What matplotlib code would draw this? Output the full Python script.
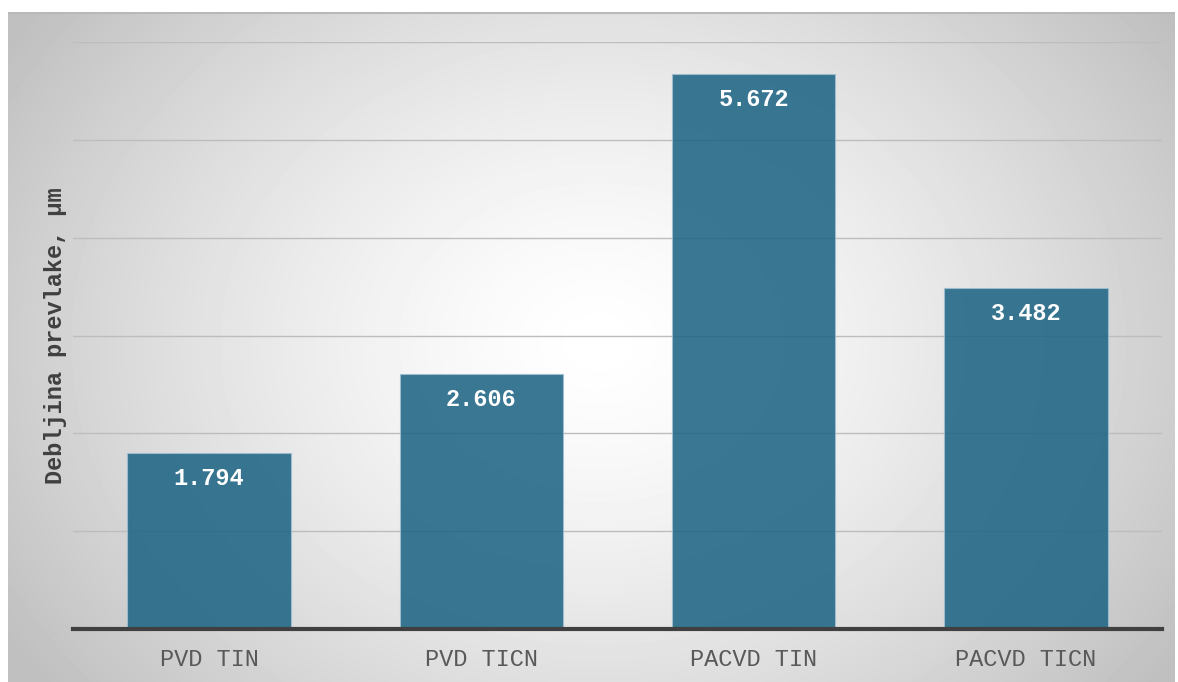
import numpy as np
import matplotlib.pyplot as plt

categories = ['PVD TIN', 'PVD TICN', 'PACVD TIN', 'PACVD TICN']
thickness = [1.794, 2.606, 5.672, 3.482]
value_labels = ['1.794', '2.606', '5.672', '3.482']

W, H = 1178, 682
fig = plt.figure(figsize=(W / 100, H / 100), dpi=100)
fig.patch.set_facecolor('white')

# radial gradient panel behind the chart
bg = fig.add_axes([8 / W, 0, 1 - 11 / W, 1 - 12 / H], zorder=0)
yy, xx = np.mgrid[0:670, 0:1167]
r = np.hypot(xx - 590, (yy - 330) * 1.25)
r = np.clip(r / 700, 0, 1)
shade = 1 - 0.25 * r ** 1.4
bg.imshow(shade, cmap='gray', vmin=0, vmax=1, aspect='auto', interpolation='bilinear')
bg.axhline(0, color='#b8b8b8', lw=1.5)
bg.set_axis_off()

ax = fig.add_axes([73 / W, 53 / H, (1162 - 73) / W, (629 - 42) / H], zorder=1)
ax.patch.set_alpha(0)
x = np.arange(len(categories))
ax.bar(x, thickness, width=0.6, color='#1F6585', alpha=0.88,
       edgecolor='#9fbfd0', linewidth=0.8, zorder=2)
for xi, v, lab in zip(x, thickness, value_labels):
    ax.text(xi, v - 0.26, lab, ha='center', va='center', color='white',
            fontsize=17, fontweight='bold', family='Liberation Mono', zorder=3)

ax.set_xlim(-0.5, 3.5)
ax.set_ylim(0, 6)
ax.set_yticks(np.arange(0, 7, 1))
ax.yaxis.grid(True, color='#bdbdbd', lw=1, zorder=1)
ax.tick_params(axis='y', left=False, labelleft=False)
ax.tick_params(axis='x', bottom=False, pad=10)
ax.set_xticks(x)
ax.set_xticklabels(categories, family='Liberation Mono', fontsize=17, color='#595959')
for s in ['top', 'right', 'left']:
    ax.spines[s].set_visible(False)
ax.spines['bottom'].set_color('#404040')
ax.spines['bottom'].set_linewidth(3)
ax.spines['bottom'].set_zorder(4)
ax.set_ylabel('Debljina prevlake, µm', family='Liberation Mono', fontsize=17,
              fontweight='bold', color='#404040', labelpad=4)

fig.savefig('out.png', dpi=100)
